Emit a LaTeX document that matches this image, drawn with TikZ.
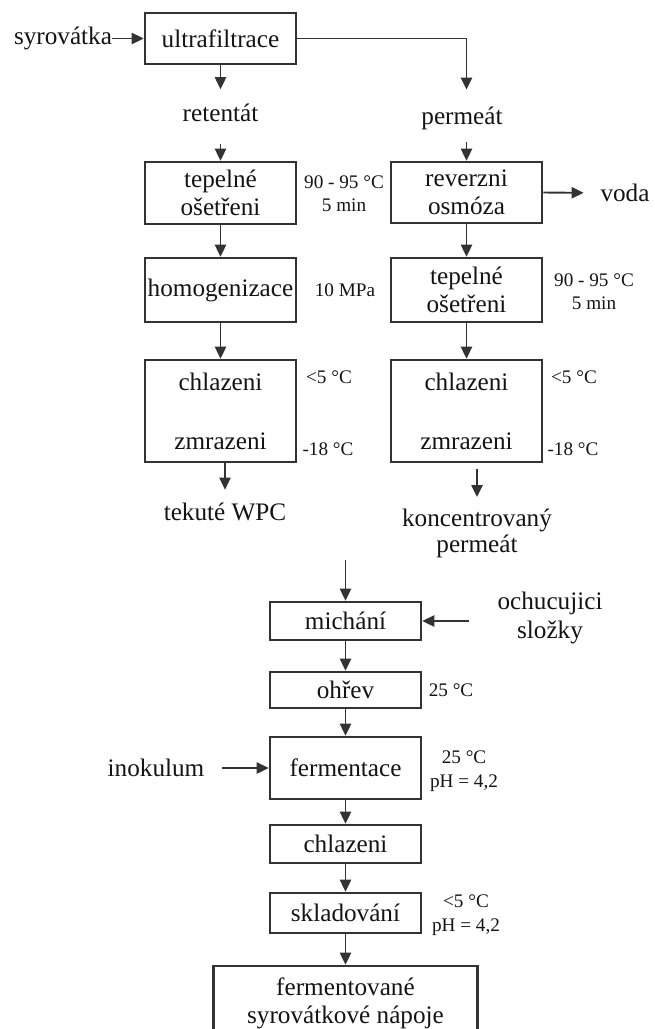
\documentclass[tikz,border=0pt]{standalone}
\usepackage{fontspec}
\setmainfont{Liberation Serif}
\usetikzlibrary{arrows.meta}
\definecolor{tmava}{HTML}{141414}
\definecolor{seda}{HTML}{333333}
\newcommand{\hlavni}{\fontsize{12.6}{14}\selectfont}
\newcommand{\mala}{\fontsize{9.6}{11.7}\selectfont}
\tikzset{
  blok/.style={draw=seda,line width=1.3pt,minimum width=75.5pt,inner sep=0pt,align=center,text=tmava,font=\hlavni},
  sip/.style={-{Triangle[length=6pt,width=5.6pt]},seda,line width=0.95pt},
  popis/.style={text=tmava,inner sep=0pt,align=center,font=\hlavni},
  pozn/.style={text=tmava,inner sep=0pt,align=center,font=\mala},
}

\begin{document}
\begin{tikzpicture}[x=0.5pt,y=-0.5pt]
  \useasboundingbox (0,0) rectangle (654,1029);
  % --- Ultrafiltrace ---
  \node[blok,minimum height=25.5pt] (uf) at (220.5,38.5) {ultrafiltrace};
  \node[popis] (syr) at (63,38.5) {syrovátka};
  \node[popis] (ret) at (220.5,113) {retentát};
  \node[popis] (perm) at (462,118) {permeát};
  \node[popis] (voda) at (625,193) {voda};
  \draw[sip] (syr.east) -- (uf.west);
  \draw[sip,shorten >=7.25pt] (uf.south) -- (ret.north);
  \draw[sip,shorten >=8.3pt] (uf.east) -| (466.5,118 |- perm.north);
  % --- Retentat ---
  \node[blok,minimum height=31pt] (tepL) at (220.5,193) {tepelné\\ošetřeni};
  \node[blok,minimum height=32pt] (homo) at (220.5,290) {homogenizace};
  \node[blok,minimum height=51pt] (chlL) at (220.5,411) {chlazeni\\[15.5pt]zmrazeni};
  \node[popis] (wpc) at (225,512) {tekuté WPC};
  \node[pozn] (podm1) at (344,194) {90 - 95 °C\\5 min};
  \node[pozn] (podm2) at (345,290) {10 MPa};
  \node[pozn] (podm3) at (329,377) {<5 °C};
  \node[pozn] (podm4) at (328,449) {-18 °C};
  \draw[sip,shorten <=10.75pt] (ret.south) -- (tepL.north);
  \draw[sip] (tepL) -- (homo);
  \draw[sip] (homo) -- (chlL);
  \draw[sip,shorten >=6.5pt] (wpc.north |- chlL.south) -- (wpc.north);
  % --- Permeat ---
  \node[blok,minimum height=30.5pt] (revo) at (466.5,192.5) {reverzni\\osmóza};
  \node[blok,minimum height=32pt] (tepR) at (466.5,290) {tepelné\\ošetřeni};
  \node[blok,minimum height=51pt] (chlR) at (466.5,411) {chlazeni\\[15.5pt]zmrazeni};
  \node[popis,anchor=north] (konc) at (477,509) {koncentrovaný\\[-1pt]permeát};
  \node[pozn] (podm5) at (594,292) {90 - 95 °C\\5 min};
  \node[pozn] (podm6) at (574,377) {<5 °C};
  \node[pozn] (podm7) at (573,449) {-18 °C};
  \draw[sip,shorten <=6.3pt] (revo.north |- perm.south) -- (revo.north);
  \draw[sip,shorten >=8.25pt] (revo.east) -- (voda.west);
  \draw[sip] (revo) -- (tepR);
  \draw[sip] (tepR) -- (chlR);
  \draw[sip,shorten <=3pt,shorten >=6pt] (konc.north |- chlR.south) -- (konc.north);
  % --- Fermentace ---
  \coordinate (vstup) at (345.5,560);
  \node[blok,minimum height=19pt] (mich) at (345.5,621) {michání};
  \node[blok,minimum height=18pt] (ohrev) at (345.5,690) {ohřev};
  \node[blok,minimum height=31pt] (ferm) at (345.5,768) {fermentace};
  \node[blok,minimum height=19pt] (chl3) at (345.5,844) {chlazeni};
  \node[blok,minimum height=20pt] (sklad) at (345.5,913) {skladování};
  \node[blok,minimum width=132pt,minimum height=37pt] (napoj) at (345.5,1003) {fermentované\\syrovátkové nápoje};
  \node[popis] (ochu) at (550,618) {ochucujici\\[0.5pt]složky};
  \node[popis] (inok) at (156,768) {inokulum};
  \node[pozn] (podm8) at (451,690) {25 °C};
  \node[pozn] (podm9) at (464,771) {25 °C\\pH = 4,2};
  \node[pozn] (podm10) at (466,915) {<5 °C\\pH = 4,2};
  \draw[sip] (vstup) -- (mich);
  \draw[sip,shorten <=14pt] (ochu.west |- mich.east) -- (mich.east);
  \draw[sip,shorten <=8.5pt] (inok.east) -- (ferm.west);
  \foreach \a/\b in {mich/ohrev,ohrev/ferm,ferm/chl3,chl3/sklad,sklad/napoj}
    \draw[sip] (\a) -- (\b);
\end{tikzpicture}
\end{document}
